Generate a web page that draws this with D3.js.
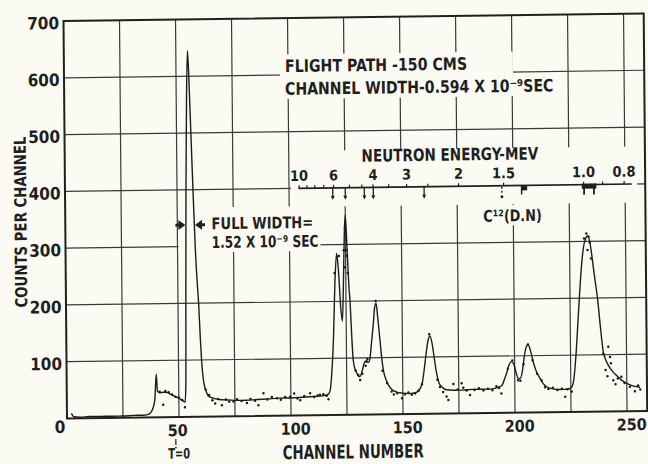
<!DOCTYPE html>
<html>
<head>
<meta charset="utf-8">
<script src="https://cdn.jsdelivr.net/npm/d3@7"></script>
<style>
  html, body { margin: 0; padding: 0; background: #fbfbf3; }
  svg { display: block; }
  text { font-family: "DejaVu Sans Condensed", "DejaVu Sans", sans-serif; font-weight: bold; fill: #1f1f1f; }
</style>
</head>
<body>
<svg id="chart" width="648" height="464"></svg>
<script>
// ---- axis ticks and grid ----
const xTickValues = [50, 100, 150, 200, 250];
const yTickValues = [100, 200, 300, 400, 500, 600, 700];
const gridChannels = [25, 50, 75, 100, 125, 150, 175, 200, 225, 250];
const gridCounts = [100, 200, 300, 400, 500, 600];

// ---- time-of-flight spectrum: smoothed curve (channel, counts) ----
const lineChannel = [
  2, 3, 6, 10, 15, 20, 25, 30, 34, 36, 37.5, 38.5, 39.3, 40, 40.5, 41.5, 43, 44.5, 46, 47.5,
  49, 50.5, 52, 52.8, 53.2, 53.5, 54, 54.6, 55.2, 55.7, 56.4, 57.2, 57.9, 58.6, 59.2, 59.8,
  60.3, 60.9, 61.4, 62.2, 63.1, 65, 68, 72, 76, 80, 85, 90, 95, 100, 105, 110, 114, 116.5,
  117.5, 118.3, 119.2, 120.2, 121, 121.8, 122.6, 123.3, 123.9, 124.5, 125, 125.6, 126.3,
  126.8, 127.4, 128, 128.8, 129.5, 130.3, 130.9, 131.8, 132.8, 133.8, 134.8, 135.5, 136.3,
  137.1, 137.8, 138.4, 139.1, 140, 140.7, 141.4, 142.5, 143.6, 145, 147.3, 150, 153, 156,
  157.8, 158.8, 159.7, 160.5, 161.5, 162.3, 163.2, 164.2, 165.2, 166.2, 167.5, 169.5, 173,
  177, 181, 185, 189, 192.5, 194.2, 195.5, 196.4, 197.5, 198.6, 199.7, 200.8, 201.7, 202.5,
  203.4, 204.4, 205.3, 206.2, 207.2, 208.4, 209.6, 211.3, 212.8, 214.2, 216, 219, 222,
  224.5, 225.6, 226.3, 227, 227.5, 228.3, 229.2, 230.2, 231.2, 232.2, 233.2, 234.2, 235.2,
  236.2, 237.2, 238.3, 239.6, 240.8, 242.2, 243.6, 245.5, 247.7, 250.5, 253, 255.9
];
const lineCounts = [
  9, 3, 2, 3, 3, 3, 3, 4, 4, 5, 9, 17, 32, 76, 46, 43, 44, 44, 41, 38,
  35, 32, 28, 26, 60, 200, 400, 560, 645, 600, 500, 390, 300, 240, 200, 140,
  100, 70, 56, 45, 37, 33, 30, 29, 28, 28, 29, 30, 31, 31, 32, 33, 34, 36,
  42, 70, 130, 240, 285, 250, 190, 165, 230, 320, 352, 300, 230,
  200, 140, 96, 80, 74, 68, 67, 75, 90, 95, 92, 100, 130,
  160, 190, 196, 170, 131, 100, 78, 62, 52, 44, 39, 37, 36, 38,
  45, 56, 80, 105, 130, 137, 125, 97, 70, 54, 47, 42, 41,
  41, 42, 42, 42, 45, 48, 60, 70, 84, 90, 85, 68, 60, 60,
  72, 100, 116, 119, 108, 88, 73, 60, 50, 45, 42, 40, 40,
  41, 45, 55, 80, 103, 150, 203, 255, 290, 305, 310, 295, 265,
  232, 202, 155, 106, 90, 79, 71, 63, 55, 48, 44, 42
];

// ---- individual channel readings (channel, counts) ----
const dotChannel = [
  41.5, 43, 44, 45.5, 47, 48.5, 50, 51.5, 52.7,
  62, 63.5, 65, 66.2, 67.5, 69.2, 71, 72.5, 74.4, 76, 78, 80.4, 82, 84, 85.5, 87.8, 89.5,
  91.5, 93.8, 95.5, 97.5, 99.7, 101.5, 103, 104.2, 106, 108.6, 110.5, 112, 113, 114.5, 116, 116.8,
  120, 122, 124.2, 124.6, 124.8, 125.3, 125.6, 125.9, 129, 130.2, 131, 132, 133.5, 133.9, 134.3,
  138.2, 141, 143, 145, 146, 147.5, 149.6, 151, 152.5, 154, 155.5, 157, 158.6, 162,
  165.5, 166.6, 168, 169.5, 170.3, 172.6, 174.5, 176.3, 177, 178.5, 180, 182, 184, 186, 188,
  190, 191.8, 193, 194, 197, 199, 201.5, 202.5, 204, 206, 208, 210, 212, 213.5, 215, 217,
  219, 221, 222.5, 223.5, 225.4, 231.5, 232.5, 233.5, 233, 234, 234.5, 239.6, 240.6, 241.4,
  241.9, 242.6, 243, 244, 245, 246, 247.6, 249, 251.4, 253.6, 255, 256
];
const dotCounts = [
  45, 22, 46, 44, 40, 36, 34, 30, 17,
  48, 38, 29, 23, 31, 20, 30, 26, 26, 30, 27, 23, 30, 27, 19, 40, 29,
  33, 31, 28, 33, 33, 39, 30, 27, 34, 39, 32, 35, 36, 37, 34, 28,
  250, 280, 290, 260, 330, 290, 280, 250, 78, 70, 61, 72, 86, 93, 98,
  200, 77, 55, 40, 35, 37, 28, 35, 38, 34, 36, 41, 52, 140,
  60, 47, 38, 30, 24, 52, 42, 53, 45, 40, 32, 41, 44, 40, 43,
  40, 47, 44, 34, 78, 92, 57, 56, 85, 120, 92, 68, 56, 44, 41, 43,
  39, 41, 27, 40, 36, 305, 314, 308, 285, 298, 270, 102, 73, 62,
  114, 96, 85, 55, 48, 58, 61, 50, 43, 35, 45, 38
];

// ---- neutron energy scale (MeV) along the 400-count line ----
const energyLabels = ["10", "6", "4", "3", "2", "1.5", "1.0", "0.8"];
const energyLabelChannel = [104.5, 119.9, 137.5, 152.5, 175.7, 195.8, 231.5, 249.6];
const energyMinorChannel = [104.5, 108, 111.5, 115.5, 119.9, 127, 132.5, 137.5, 144.5, 152.5,
  162, 175.7, 195.8, 231.5, 240, 249.6];
const groupArrowChannel = [119.5, 125.1, 133.6, 137.6, 160.3];
const c12Channel = 195.0;

// ---- layout ----
const BG = "#fbfbf3";
const INK = "#1f1f1f";
const W = 580.2, H = 397.5;

const x = d3.scaleLinear().domain([0, 259]).range([0, W]);
const y = d3.scaleLinear().domain([0, 700]).range([H, 0]);

const svg = d3.select("#chart");
svg.append("rect").attr("width", 648).attr("height", 464).attr("fill", BG);

// the sheet sits slightly askew on the page
const g = svg.append("g").attr("transform", "matrix(1,-0.01295,0.0088,1,63.5,21)");

// grid
const grid = g.append("g").attr("stroke", "#3a3a3a").attr("stroke-width", 1.2);
grid.selectAll(".gv").data(gridChannels).join("line")
  .attr("x1", d => x(d)).attr("x2", d => x(d)).attr("y1", y(0)).attr("y2", y(700));
grid.selectAll(".gh").data(gridCounts).join("line")
  .attr("x1", x(0)).attr("x2", x(259)).attr("y1", d => y(d)).attr("y2", d => y(d));

// paper showing through behind the lettering
const blank = g.append("g").attr("fill", BG);
function blankBox(c0, c1, v0, v1) {
  blank.append("rect").attr("x", x(c0)).attr("y", y(v1))
    .attr("width", x(c1) - x(c0)).attr("height", y(v0) - y(v1));
}
blankBox(96.4, 200.4, 590.8, 636);     // flight path line
blankBox(96.4, 220.5, 557.5, 590.8);   // channel width line
blankBox(100.9, 255.4, 367.2, 465.8);  // energy scale
blankBox(184.8, 215.2, 330, 365.5);    // C12 label
blankBox(50.45, 113.8, 289.5, 368.5);  // full width note

// frame
g.append("rect").attr("x", x(0)).attr("y", y(700)).attr("width", x(259) - x(0)).attr("height", y(0) - y(700))
  .attr("fill", "none").attr("stroke", "#202020").attr("stroke-width", 2);

// axes (labels only)
const yAxis = g.append("g").call(d3.axisLeft(y).tickValues(yTickValues).tickSize(0).tickPadding(4.5));
yAxis.select(".domain").remove();
yAxis.attr("font-family", null).attr("font-size", null);
yAxis.selectAll("text").attr("dy", null).attr("y", 7.5).attr("font-size", 17).style("fill", INK);

const xAxis = g.append("g").attr("transform", `translate(0,${y(0)})`)
  .call(d3.axisBottom(x).tickValues(xTickValues).tickSize(0));
xAxis.select(".domain").remove();
xAxis.attr("font-family", null).attr("font-size", null);
xAxis.selectAll("text").attr("dy", null).attr("y", 19).attr("dx", d => d === 50 ? -2 : 4)
  .attr("font-size", 16).style("fill", INK);

// shared origin label
g.append("text").attr("x", x(0) - 7).attr("y", y(0) + 14.3).attr("text-anchor", "middle")
  .attr("font-size", 17).text("0");

// axis titles
g.append("text").attr("transform", `translate(-38.8,${y(347)}) rotate(-90)`)
  .attr("text-anchor", "middle").attr("font-size", 16.5)
  .attr("textLength", 171).attr("lengthAdjust", "spacingAndGlyphs").text("COUNTS PER CHANNEL");
g.append("text").attr("x", x(127.6)).attr("y", y(0) + 43.5).attr("text-anchor", "middle")
  .attr("font-size", 19).attr("textLength", 141).attr("lengthAdjust", "spacingAndGlyphs")
  .text("CHANNEL NUMBER");

// T = 0 marker under channel 50
g.append("line").attr("x1", x(48.5)).attr("x2", x(48.5)).attr("y1", y(0) + 22).attr("y2", y(0) + 28)
  .attr("stroke", INK).attr("stroke-width", 1.2);
g.append("circle").attr("cx", x(48.5)).attr("cy", y(0) + 30.5).attr("r", 0.9).attr("fill", INK);
g.append("text").attr("x", x(49.9)).attr("y", y(0) + 41.5).attr("text-anchor", "middle")
  .attr("font-size", 14.5).attr("textLength", 22).attr("lengthAdjust", "spacingAndGlyphs").text("T=0");

// free text, squeezed to its lettered width
function txt(str, ch, cnt, size, len, anchor) {
  const t = g.append("text").attr("x", x(ch)).attr("y", y(cnt)).attr("font-size", size).text(str);
  if (len) t.attr("textLength", len).attr("lengthAdjust", "spacingAndGlyphs");
  if (anchor) t.attr("text-anchor", anchor);
  return t;
}

// run conditions
txt("FLIGHT PATH -150 CMS", 98.7, 605, 17, 182);
txt("CHANNEL WIDTH-0.594 X 10\u207B\u2079SEC", 98.6, 565, 17, 268.3);

// neutron energy scale
txt("NEUTRON ENERGY-MEV", 132.5, 445.5, 17, 176.6);
const escale = g.append("g").attr("stroke", INK);
escale.append("line").attr("x1", x(104.2)).attr("x2", x(253)).attr("y1", y(400)).attr("y2", y(400))
  .attr("stroke-width", 1.6);
escale.selectAll(".minor").data(energyMinorChannel).join("line")
  .attr("x1", d => x(d)).attr("x2", d => x(d)).attr("y1", y(400)).attr("y2", y(400) - 3)
  .attr("stroke-width", 1.2);
g.selectAll(".elab").data(energyLabels).join("text")
  .attr("x", (d, i) => x(energyLabelChannel[i])).attr("y", y(413.2))
  .attr("text-anchor", "middle").attr("font-size", 14.5).text(d => d);

// expected neutron groups
const arrows = g.append("g");
groupArrowChannel.forEach(ch => {
  const px = x(ch), py = y(400);
  arrows.append("line").attr("x1", px).attr("x2", px).attr("y1", py).attr("y2", py + 9)
    .attr("stroke", INK).attr("stroke-width", 1.3);
  arrows.append("path").attr("d", `M${px - 2},${py + 8}L${px + 2},${py + 8}L${px},${py + 12}Z`).attr("fill", INK);
});
arrows.append("line").attr("x1", x(c12Channel)).attr("x2", x(c12Channel)).attr("y1", y(400) + 1).attr("y2", y(400) + 9)
  .attr("stroke", INK).attr("stroke-width", 1.4).attr("stroke-dasharray", "2,2");
arrows.append("circle").attr("cx", x(c12Channel)).attr("cy", y(400) + 11).attr("r", 1.5).attr("fill", INK);
// level band near 1.3 MeV
arrows.append("rect").attr("x", x(203.6)).attr("y", y(400)).attr("width", x(206.3) - x(203.6)).attr("height", 5).attr("fill", INK);
arrows.append("line").attr("x1", x(203.8)).attr("x2", x(203.8)).attr("y1", y(400)).attr("y2", y(400) + 9)
  .attr("stroke", INK).attr("stroke-width", 1.4);
// band near 1 MeV
arrows.append("rect").attr("x", x(230.7)).attr("y", y(400) - 1).attr("width", x(237.2) - x(230.7)).attr("height", 5).attr("fill", INK);
[231.7, 236.1].forEach(ch => {
  arrows.append("line").attr("x1", x(ch)).attr("x2", x(ch)).attr("y1", y(400)).attr("y2", y(400) + 10)
    .attr("stroke", INK).attr("stroke-width", 1.8);
});

// C12(d,n) label
txt("C\u00B9\u00B2(D.N)", 186.6, 337.1, 16, 58.4);

// full-width note for the gamma peak
txt("FULL WIDTH=", 65.3, 330, 16, 101.6);
txt("1.52 X 10\u207B\u2079 SEC", 65.3, 297, 16, 106.6);
(function () {
  const py = y(338);
  const lt = x(53.6), rt = x(57.9);
  g.append("path").attr("fill", INK)
    .attr("d", `M${lt - 10},${py - 1.5}L${lt - 7},${py - 1.5}L${lt - 7},${py - 5}L${lt},${py}L${lt - 7},${py + 5}L${lt - 7},${py + 1.5}L${lt - 10},${py + 1.5}Z`);
  g.append("path").attr("fill", INK)
    .attr("d", `M${rt + 10},${py - 1.5}L${rt + 7},${py - 1.5}L${rt + 7},${py - 5}L${rt},${py}L${rt + 7},${py + 5}L${rt + 7},${py + 1.5}L${rt + 10},${py + 1.5}Z`);
})();

// spectrum curve
const pts = lineChannel.map((c, i) => [c, lineCounts[i]]);
g.append("path").datum(pts)
  .attr("fill", "none").attr("stroke", "#1c1c1c").attr("stroke-width", 1.4).attr("stroke-linejoin", "round")
  .attr("d", d3.line().x(d => x(d[0])).y(d => y(d[1])).curve(d3.curveMonotoneX));

// measured points
g.append("g").attr("fill", "#1c1c1c").selectAll("circle")
  .data(dotChannel.map((c, i) => [c, dotCounts[i]])).join("circle")
  .attr("cx", d => x(d[0])).attr("cy", d => y(d[1])).attr("r", 1.25);
</script>
</body>
</html>
